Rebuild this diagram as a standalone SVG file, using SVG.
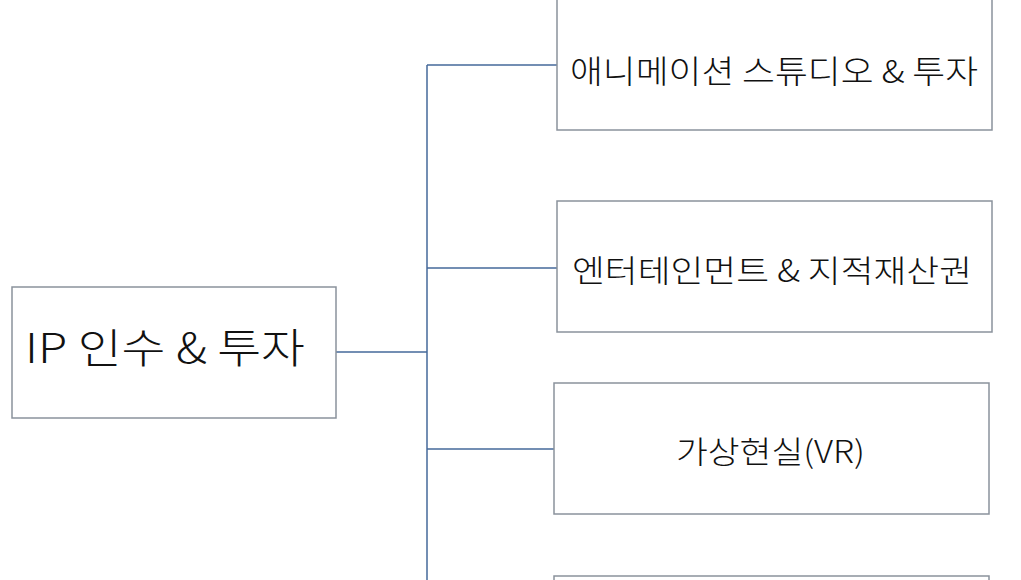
<svg xmlns="http://www.w3.org/2000/svg" width="1021" height="580" viewBox="0 0 1021 580">
<style>
.box{fill:#ffffff;stroke:#8a929c;stroke-width:1.5}
.lbl{font-family:"Noto Sans CJK KR","Noto Sans",sans-serif;fill:#111111;font-weight:300}
.con{fill:none;stroke:#44699a;stroke-width:1.5}
</style>
<rect width="1021" height="580" fill="#ffffff"/>
<g id="connectors">
<path class="con" d="M336 352 H427"/>
<path class="con" d="M427 65 V580"/>
<path class="con" d="M427 65 H557"/>
<path class="con" d="M427 268 H557"/>
<path class="con" d="M427 449 H554"/>
</g>
<g id="root">
<rect class="box" x="12" y="287" width="324" height="131"/>
<text class="lbl" x="25" y="363" font-size="41" textLength="280" lengthAdjust="spacingAndGlyphs">IP 인수 &amp; 투자</text>
</g>
<g id="node1">
<rect class="box" x="557" y="-1" width="435" height="131"/>
<text class="lbl" x="570" y="83" font-size="32" textLength="408" lengthAdjust="spacingAndGlyphs">애니메이션 스튜디오 &amp; 투자</text>
</g>
<g id="node2">
<rect class="box" x="557" y="201" width="435" height="131"/>
<text class="lbl" x="572" y="282" font-size="31" textLength="400" lengthAdjust="spacingAndGlyphs">엔터테인먼트 &amp; 지적재산권</text>
</g>
<g id="node3">
<rect class="box" x="554" y="383" width="435" height="131"/>
<text class="lbl" x="676" y="463" font-size="31" textLength="189" lengthAdjust="spacingAndGlyphs">가상현실(VR)</text>
</g>
<g id="node4">
<rect class="box" x="554" y="576" width="435" height="131"/>
</g>
</svg>
